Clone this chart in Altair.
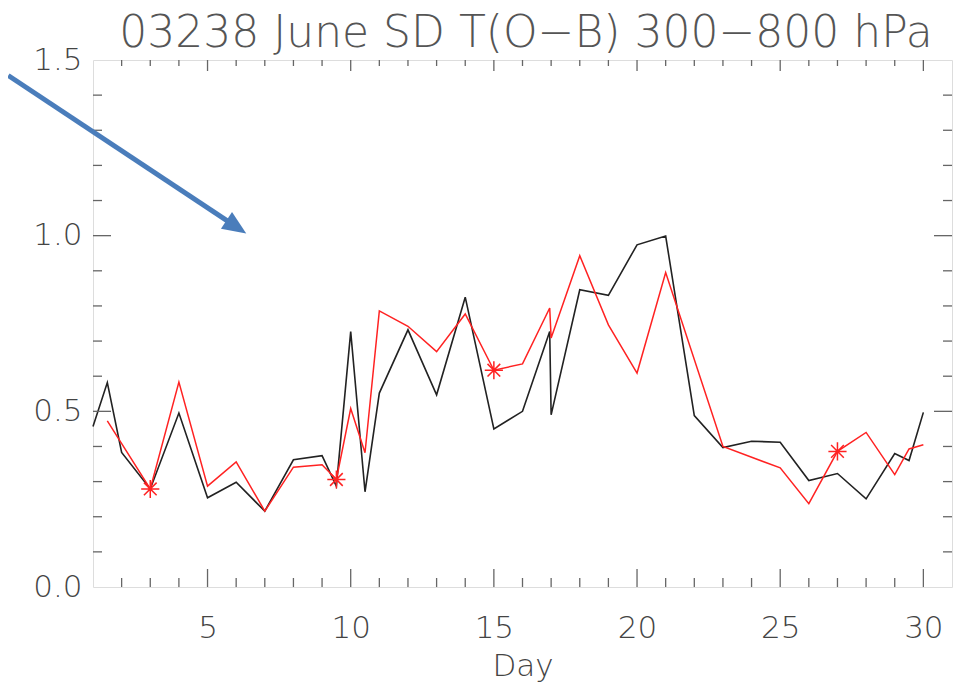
import altair as alt
import pandas as pd

# ---- data ----
black_day = [1, 1.5, 2, 3, 4, 5, 6, 7, 8, 9, 9.5, 10, 10.5, 11, 12, 13, 14, 15, 16,
             16.95, 17, 18, 19, 20, 21, 22, 23, 24, 25, 26, 27, 28, 29, 29.5, 30]
black_val = [0.457, 0.582, 0.383, 0.279, 0.495, 0.254, 0.298, 0.216, 0.362, 0.374,
             0.287, 0.727, 0.271, 0.552, 0.732, 0.547, 0.825, 0.45, 0.5, 0.727,
             0.49, 0.846, 0.83, 0.974, 0.999, 0.488, 0.397, 0.415, 0.412, 0.303,
             0.323, 0.251, 0.38, 0.36, 0.497]

red_day = [1.5, 3, 4, 5, 6, 7, 8, 9, 9.5, 10, 10.5, 11, 12, 13, 14, 15, 16, 16.95, 17,
           18, 19, 20, 21, 23, 25, 26, 27, 28, 29, 29.5, 30]
red_val = [0.473, 0.279, 0.583, 0.287, 0.356, 0.216, 0.341, 0.348, 0.306, 0.508,
           0.382, 0.786, 0.742, 0.67, 0.777, 0.617, 0.635, 0.794, 0.709, 0.943,
           0.746, 0.609, 0.895, 0.4, 0.339, 0.237, 0.386, 0.44, 0.32, 0.393, 0.405]

star_day = [3, 9.5, 15, 27]
star_val = [0.279, 0.306, 0.617, 0.386]

x_major = [5, 10, 15, 20, 25, 30]
x_minor = [d for d in range(2, 31) if d % 5 != 0]
y_major = [0.5, 1.0]
y_minor = [round(v * 0.1, 1) for v in range(1, 15) if v % 5 != 0]

# annotation arrow (in data coordinates)
arrow_day = [-1.96, 6.007]
arrow_val = [1.456, 1.025]

title_text = ["03238 June SD T(O−B) 300−800 hPa"]

W, H = 859, 527
FONT = "DejaVu Sans"
TXT = "#444444"
FRAME = "#666666"

xs = alt.Scale(domain=[1, 31], nice=False, zero=False)
ys = alt.Scale(domain=[0, 1.5], nice=False, zero=False)

black = pd.DataFrame({"day": black_day, "val": black_val})
red = pd.DataFrame({"day": red_day, "val": red_val})
stars = pd.DataFrame({"day": star_day, "val": star_val})

base_x = alt.X("day:Q", scale=xs, title="Day",
               axis=alt.Axis(values=x_major, format="d", ticks=False, domain=False,
                             grid=False, labelFontSize=31, labelPadding=26,
                             titleFontSize=31, titlePadding=8,
                             labelFont=FONT, titleFont=FONT,
                             labelFontWeight=200, titleFontWeight=200,
                             labelColor=TXT, titleColor=TXT))
base_y = alt.Y("val:Q", scale=ys, title=None,
               axis=alt.Axis(values=[0, 0.5, 1.0, 1.5], format=".1f", ticks=False,
                             domain=False, grid=False, labelFontSize=31,
                             labelPadding=11, labelFont=FONT, labelFontWeight=200,
                             labelColor=TXT))

black_line = alt.Chart(black).mark_line(color="#222222", strokeWidth=1.6).encode(
    x=base_x, y=base_y)
red_line = alt.Chart(red).mark_line(color="#ff2222", strokeWidth=1.5).encode(
    x=alt.X("day:Q", scale=xs), y=alt.Y("val:Q", scale=ys))
star_path = "M-1,0L1,0M0,-1L0,1M-0.7,-0.7L0.7,0.7M-0.7,0.7L0.7,-0.7"
star_mark = alt.Chart(stars).mark_point(shape=star_path, filled=False, color="#ff2222",
                                        strokeWidth=1.5, size=330, opacity=1).encode(
    x=alt.X("day:Q", scale=xs), y=alt.Y("val:Q", scale=ys))

# inward ticks
xmaj = pd.DataFrame({"day": x_major})
xmin = pd.DataFrame({"day": x_minor})
ymaj = pd.DataFrame({"val": y_major})
ymin = pd.DataFrame({"val": y_minor})


def xtick(df, y0, y1):
    return alt.Chart(df).mark_rule(color=FRAME, strokeWidth=1.3).encode(
        x=alt.X("day:Q", scale=xs), y=alt.value(y0), y2=alt.value(y1))


def ytick(df, x0, x1):
    return alt.Chart(df).mark_rule(color=FRAME, strokeWidth=1.3).encode(
        y=alt.Y("val:Q", scale=ys), x=alt.value(x0), x2=alt.value(x1))


ticks = [
    xtick(xmaj, H, H - 18), xtick(xmin, H, H - 9),
    xtick(xmaj, 0, 11), xtick(xmin, 0, 6),
    ytick(ymaj, 0, 18), ytick(ymin, 0, 9),
    ytick(ymaj, W, W - 18), ytick(ymin, W, W - 9),
]

arrow = pd.DataFrame({"day": arrow_day, "val": arrow_val})
arrow_line = alt.Chart(arrow).mark_line(color="#4a7dbb", strokeWidth=5, clip=False).encode(
    x=alt.X("day:Q", scale=xs), y=alt.Y("val:Q", scale=ys))
arrow_head = alt.Chart(arrow.iloc[[1]]).mark_point(
    shape="M-1,-0.85L1,0L-1,0.85Z", filled=True, color="#4a7dbb", opacity=1,
    size=560, angle=33.4, clip=False).encode(
    x=alt.X("day:Q", scale=xs), y=alt.Y("val:Q", scale=ys))

title_mark = alt.Chart(pd.DataFrame({"t": title_text})).mark_text(
    font=FONT, fontSize=44, fontWeight=200, color="#555555", align="center",
    baseline="alphabetic", clip=False).encode(
    text="t:N", x=alt.value(433), y=alt.value(-13))

chart = alt.layer(black_line, red_line, star_mark, *ticks, arrow_line, arrow_head,
                  title_mark).properties(
    width=W, height=H,
    autosize=alt.AutoSizeParams(type="none"),
    padding={"left": 85, "top": 52, "right": 1, "bottom": 97},
).configure_view(stroke=FRAME, strokeWidth=1.5).configure(background="white")

chart.save("out.html", embed_options={"renderer": "svg", "actions": False})
